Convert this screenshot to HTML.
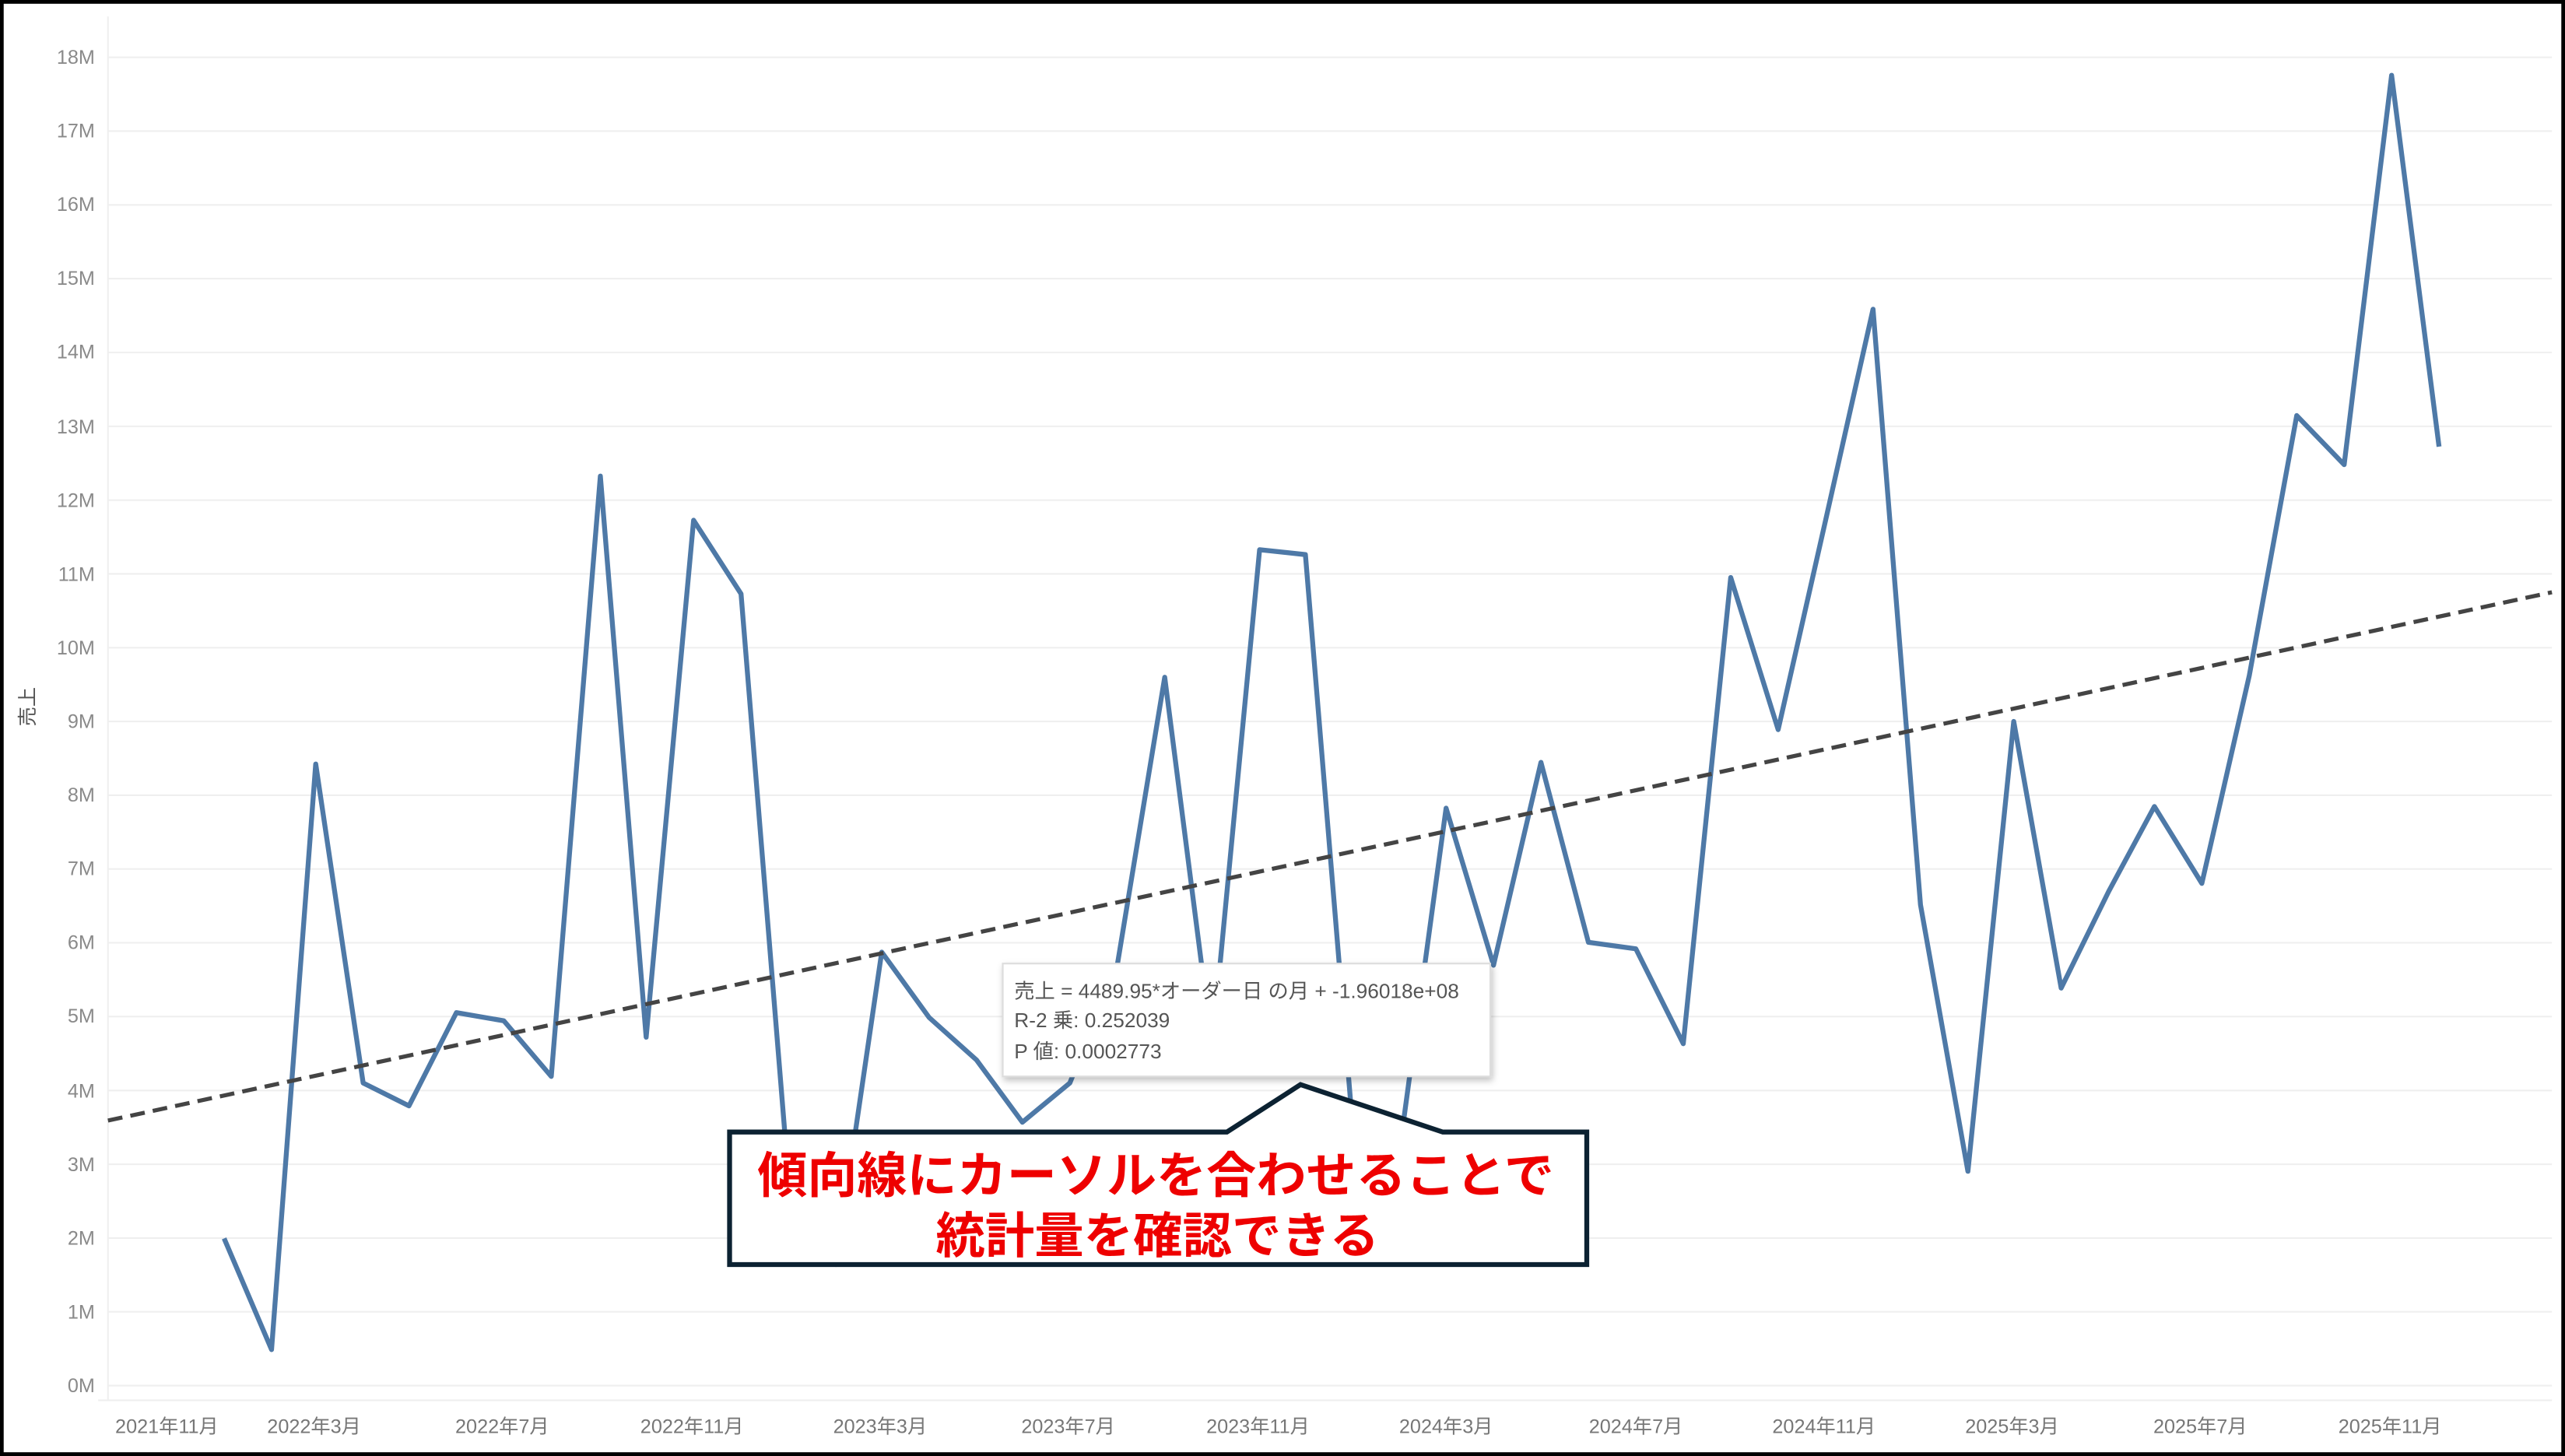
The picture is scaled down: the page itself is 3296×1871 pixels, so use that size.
<!DOCTYPE html>
<html><head><meta charset="utf-8"><style>
html,body{margin:0;padding:0;background:#fff}
svg{display:block}
text{font-family:"Liberation Sans","Noto Sans CJK JP",sans-serif}
</style></head><body>
<svg width="3296" height="1871" viewBox="0 0 1568 890" xmlns="http://www.w3.org/2000/svg">
<defs><filter id="sh" x="-10%" y="-10%" width="125%" height="135%"><feDropShadow dx="1" dy="2" stdDeviation="2" flood-color="#000" flood-opacity="0.25"/></filter></defs>
<rect x="0" y="0" width="1568" height="890" fill="#fff"/>
<g stroke="#efefef" stroke-width="1">
<line x1="66" x2="1560" y1="35" y2="35"/><line x1="66" x2="1560" y1="80.1" y2="80.1"/><line x1="66" x2="1560" y1="125.2" y2="125.2"/><line x1="66" x2="1560" y1="170.3" y2="170.3"/><line x1="66" x2="1560" y1="215.4" y2="215.4"/><line x1="66" x2="1560" y1="260.6" y2="260.6"/><line x1="66" x2="1560" y1="305.7" y2="305.7"/><line x1="66" x2="1560" y1="350.8" y2="350.8"/><line x1="66" x2="1560" y1="395.9" y2="395.9"/><line x1="66" x2="1560" y1="441" y2="441"/><line x1="66" x2="1560" y1="486.1" y2="486.1"/><line x1="66" x2="1560" y1="531.2" y2="531.2"/><line x1="66" x2="1560" y1="576.3" y2="576.3"/><line x1="66" x2="1560" y1="621.4" y2="621.4"/><line x1="66" x2="1560" y1="666.6" y2="666.6"/><line x1="66" x2="1560" y1="711.7" y2="711.7"/><line x1="66" x2="1560" y1="756.8" y2="756.8"/><line x1="66" x2="1560" y1="801.9" y2="801.9"/><line x1="66" x2="1560" y1="847" y2="847"/>
<line x1="66" x2="66" y1="10" y2="856"/>
<line x1="60" x2="1560" y1="856" y2="856"/>
</g>
<g fill="#8a8a8a" font-size="12" text-anchor="end">
<text x="58" y="39">18M</text><text x="58" y="84">17M</text><text x="58" y="129">16M</text><text x="58" y="174">15M</text><text x="58" y="219">14M</text><text x="58" y="265">13M</text><text x="58" y="310">12M</text><text x="58" y="355">11M</text><text x="58" y="400">10M</text><text x="58" y="445">9M</text><text x="58" y="490">8M</text><text x="58" y="535">7M</text><text x="58" y="580">6M</text><text x="58" y="625">5M</text><text x="58" y="671">4M</text><text x="58" y="716">3M</text><text x="58" y="761">2M</text><text x="58" y="806">1M</text><text x="58" y="851">0M</text>
</g>
<text transform="translate(21,432) rotate(-90)" font-size="12" fill="#555" text-anchor="middle">売上</text>
<g fill="#777" font-size="12" text-anchor="middle">
<text x="102" y="876">2021年11月</text><text x="192" y="876">2022年3月</text><text x="307" y="876">2022年7月</text><text x="423" y="876">2022年11月</text><text x="538" y="876">2023年3月</text><text x="653" y="876">2023年7月</text><text x="769" y="876">2023年11月</text><text x="884" y="876">2024年3月</text><text x="1000" y="876">2024年7月</text><text x="1115" y="876">2024年11月</text><text x="1230" y="876">2025年3月</text><text x="1345" y="876">2025年7月</text><text x="1461" y="876">2025年11月</text>
</g>
<polyline fill="none" stroke="#4e79a7" stroke-width="3" stroke-linejoin="round" points="137,757 166,825 193,467 222,662 250,676 279,619 308,624 337,658 367,291 395,634 424,318 453,363 482,720 511,773 539,582 568,622 597,648 625,686 654,662 683,590 712,414 741,640 770,336 798,339 827,690 856,700 884,494 913,590 942,466 971,576 1000,580 1029,638 1058,353 1087,446 1116,318 1145,189 1174,553 1203,716 1231,441 1260,604 1289,545 1317,493 1346,540 1375,413 1404,254 1433,284 1462,46 1491,273"/>
<line x1="66" y1="685" x2="1560" y2="362" stroke="#444" stroke-width="2.5" stroke-dasharray="9,5"/>
<rect x="613" y="589" width="298" height="69" fill="#fff" stroke="#ddd" filter="url(#sh)"/>
<g font-size="12.5" fill="#555">
<text x="620" y="610">売上 = 4489.95*オーダー日 の月 + -1.96018e+08</text>
<text x="620" y="628">R-2 乗: 0.252039</text>
<text x="620" y="647">P 値: 0.0002773</text>
</g>
<path d="M446,692 L750,692 L795,663 L882,692 L970,692 L970,773 L446,773 Z" fill="#fff" stroke="#0c2232" stroke-width="3"/>
<g fill="#ee0000" font-size="30" font-weight="bold">
<text x="463" y="729" textLength="487" lengthAdjust="spacingAndGlyphs">傾向線にカーソルを合わせることで</text>
<text x="572" y="766" textLength="271" lengthAdjust="spacingAndGlyphs">統計量を確認できる</text>
</g>
<rect x="1" y="1" width="1566" height="888" fill="none" stroke="#000" stroke-width="2.5"/>
</svg>
</body></html>
